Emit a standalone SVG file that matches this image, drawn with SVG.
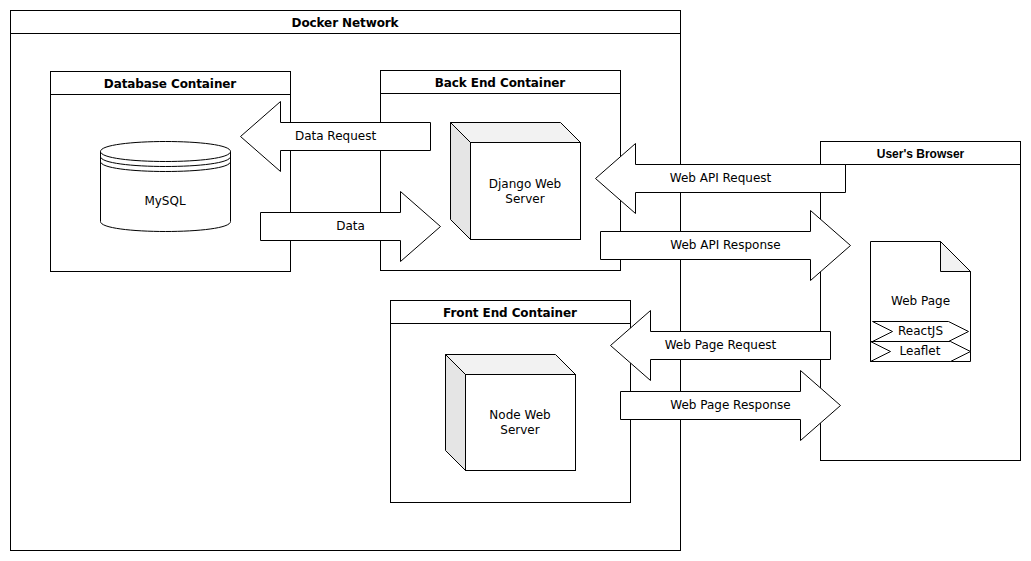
<svg xmlns="http://www.w3.org/2000/svg" width="1031" height="561" viewBox="0 0 1031 561">
<style>
text{font-family:"DejaVu Sans",Verdana,sans-serif;font-size:12px;fill:#000;text-anchor:middle}
.t{font-weight:bold;letter-spacing:-0.1px}
.a{font-family:"Liberation Sans",Arial,sans-serif;font-weight:bold}
.s{fill:#fff;stroke:#000;stroke-width:1}
.n{fill:none;stroke:#000;stroke-width:1}
.d{fill:#e5e5e5;stroke:#000;stroke-width:1}
.l{fill:#f2f2f2;stroke:#000;stroke-width:1}
</style>
<rect width="1031" height="561" fill="#fff"/>
<g id="docker-network"><rect class="s" x="10.500" y="10.500" width="670" height="540"/><path class="n" d="M10.500 33.500H680.500"/><text class="t" x="345" y="27">Docker Network</text></g>
<g id="database-container"><rect class="s" x="50.500" y="71.500" width="240" height="200"/><path class="n" d="M50.500 94.500H290.500"/><text class="t" x="170" y="88">Database Container</text></g>
<g id="backend-container"><rect class="s" x="380.500" y="70.500" width="240" height="200"/><path class="n" d="M380.500 93.500H620.500"/><text class="t" x="500" y="87">Back End Container</text></g>
<g id="frontend-container"><rect class="s" x="390.500" y="300.500" width="240" height="202"/><path class="n" d="M390.500 323.500H630.500"/><text class="t" x="510" y="317">Front End Container</text></g>
<g id="browser"><rect class="s" x="820.500" y="141.500" width="200" height="319"/><path class="n" d="M820.500 164.500H1020.500"/><text class="a" x="920.500" y="158">User's Browser</text></g>
<g id="mysql"><path class="s" d="M100.500 151.500C100.500 138.170 230.500 138.170 230.500 151.500V221.500C230.500 234.830 100.500 234.830 100.500 221.500Z"/><path class="n" d="M100.500 151.500C100.500 164.830 230.500 164.830 230.500 151.500M100.500 156.500C100.500 169.830 230.500 169.830 230.500 156.500M100.500 161.500C100.500 174.830 230.500 174.830 230.500 161.500"/><text x="165" y="205">MySQL</text></g>
<g id="django"><path class="d" d="M450.500 122.500L470.500 142.500V239.500L450.500 219.500Z"/><path class="l" d="M450.500 122.500H560.500L580.500 142.500H470.500Z"/><rect class="s" x="470.500" y="142.500" width="110" height="97"/><text x="525" y="188">Django Web</text><text x="525" y="203">Server</text></g>
<g id="node"><path class="d" d="M445.500 354.500L465.500 374.500V470.500L445.500 450.500Z"/><path class="l" d="M445.500 354.500H555.500L575.500 374.500H465.500Z"/><rect class="s" x="465.500" y="374.500" width="110" height="96"/><text x="520" y="419">Node Web</text><text x="520" y="434">Server</text></g>
<g id="web-page"><path class="s" d="M870.500 241.500H940.500L970.500 271.500V361.500H870.500Z"/><path class="l" d="M940.500 241.500L970.500 271.500H940.500Z"/><text x="920.500" y="305">Web Page</text></g>
<g id="reactjs"><path class="s" d="M872.500 321.500H948.500L968.500 331.500L948.500 341.500H872.500L892.500 331.500Z"/><text x="920.500" y="335">ReactJS</text></g>
<g id="leaflet"><path class="s" d="M870.500 341.500H950.500L970.500 351.500L950.500 361.500H870.500L890.500 351.500Z"/><text x="920" y="355">Leaflet</text></g>
<g id="connectors">
<g id="data-request"><path class="s" d="M430.500 122.500H280.500V101.500L240.500 136.500L280.500 171.500V150.500H430.500Z"/><text x="335.500" y="140">Data Request</text></g>
<g id="data"><path class="s" d="M260.500 212.500H400.500V191.500L440.500 226.500L400.500 261.500V240.500H260.500Z"/><text x="350.500" y="230">Data</text></g>
<g id="web-api-request"><path class="s" d="M845.500 164.500H635.500V143.500L595.500 178.500L635.500 213.500V192.500H845.500Z"/><text x="720.500" y="182">Web API Request</text></g>
<g id="web-api-response"><path class="s" d="M600.500 231.500H810.500V210.500L850.500 245.500L810.500 280.500V259.500H600.500Z"/><text x="725.500" y="249">Web API Response</text></g>
<g id="web-page-request"><path class="s" d="M830.500 331.500H650.500V310.500L610.500 345.500L650.500 380.500V359.500H830.500Z"/><text x="720.500" y="349">Web Page Request</text></g>
<g id="web-page-response"><path class="s" d="M620.500 391.500H800.500V370.500L840.500 405.500L800.500 440.500V419.500H620.500Z"/><text x="730.500" y="409">Web Page Response</text></g>
</g>
</svg>
